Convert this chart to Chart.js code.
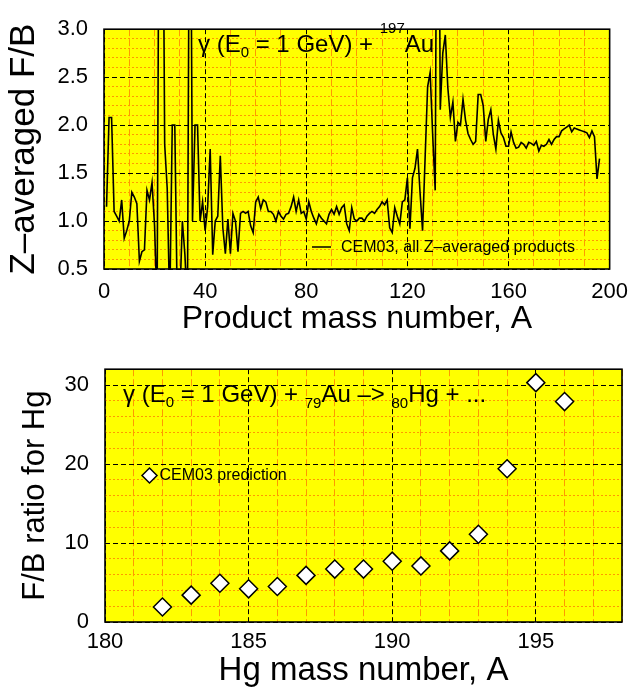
<!DOCTYPE html>
<html>
<head>
<meta charset="utf-8">
<script src="https://cdn.jsdelivr.net/npm/chart.js@4.4.1/dist/chart.umd.min.js"></script>
<style>
  html, body { margin: 0; padding: 0; background: #fff; }
  #wrap { position: relative; width: 638px; height: 694px; }
  #top { position: absolute; left: 0; top: 0; }
  #bottom { position: absolute; left: 0; top: 340px; }
</style>
</head>
<body>
<div id="wrap">
  <canvas id="top" width="638" height="340"></canvas>
  <canvas id="bottom" width="638" height="354"></canvas>
</div>
<script>
/* ---- top panel: Z-averaged F/B vs product mass number ---- */
const massNumbers = [
  1, 2, 3, 4, 5, 6, 7, 8, 9, 10, 11, 12, 13, 14, 15, 16, 17, 18, 19, 20,
  21, 22, 23, 24, 25, 26, 27, 28, 29, 30, 31, 32, 33, 34, 35, 36, 37, 38, 39, 40,
  41, 42, 43, 44, 45, 46, 47, 48, 49, 50, 51, 52, 53, 54, 55, 56, 57, 58, 59, 60,
  61, 62, 63, 64, 65, 66, 67, 68, 69, 70, 71, 72, 73, 74, 75, 76, 77, 78, 79, 80,
  81, 82, 83, 84, 85, 86, 87, 88, 89, 90, 91, 92, 93, 94, 95, 96, 97, 98, 99, 100,
  101, 102, 103, 104, 105, 106, 107, 108, 109, 110, 111, 112, 113, 114, 115, 116, 117, 118, 119, 120,
  121, 122, 123, 124, 125, 126, 127, 128, 129, 130, 131, 132, 133, 134, 135, 136, 137, 138, 139, 140,
  141, 142, 143, 144, 145, 146, 147, 148, 149, 150, 151, 152, 153, 154, 155, 156, 157, 158, 159, 160,
  161, 162, 163, 164, 165, 166, 167, 168, 169, 170, 171, 172, 173, 174, 175, 176, 177, 178, 179, 180,
  181, 182, 183, 184, 185, 186, 187, 188, 189, 190, 191, 192, 193, 194, 195, 196
];
const fbAveraged = [
  1.15, 2.08, 2.08, 1.1, 1.05, 1.0, 1.22, 0.82, 0.9, 1.0,
  1.3, 1.25, 1.18, 0.58, 0.68, 0.7, 1.32, 1.22, 1.4, 0.95,
  0.1, 6, 6, 1.8, 1.34, 0.1, 2.0, 2.0, 0.1, 0.2,
  1.0, 0.65, 0.1, 6, 1.0, 2.0, 2.0, 1.0, 1.2, 0.9,
  1.15, 1.75, 0.65, 1.0, 1.05, 1.68, 0.93, 0.66, 1.02, 0.66,
  1.08, 1.0, 0.68, 1.08, 1.1, 1.08, 1.1, 0.95, 0.88, 1.2,
  1.25, 1.13, 1.22, 1.2, 1.1, 1.1, 1.07, 1.0, 1.1, 1.05,
  1.02, 1.07, 1.08, 1.15, 1.25, 1.1, 1.22, 1.08, 1.1, 1.02,
  1.2, 1.1, 1.03, 0.97, 1.07, 1.03, 1.0, 0.97, 1.07, 1.12,
  1.07, 1.15, 1.07, 1.14, 1.17, 0.97, 0.9, 1.14, 1.02, 1.0,
  1.03, 1.03, 1.0, 1.05, 1.08, 1.1, 1.08, 1.12, 1.15, 1.2,
  1.17, 1.22, 0.93, 0.88, 1.14, 1.05, 0.97, 1.2, 1.22, 1.45,
  0.92, 1.45, 1.55, 1.75, 1.3, 0.9, 1.65, 2.4, 2.55, 1.9,
  1.32, 7, 2.16, 2.75, 2.94, 2.39, 2.08, 2.24, 1.83, 2.03,
  2.0, 2.27, 2.05, 1.91, 1.85, 1.8, 1.83, 2.32, 2.32, 2.2,
  1.83, 2.06, 2.16, 1.9, 1.75, 2.05, 1.92, 1.87, 1.78, 1.78,
  1.93, 1.82, 1.76, 1.77, 1.82, 1.8, 1.76, 1.82, 1.81, 1.79,
  1.83, 1.73, 1.79, 1.78, 1.8, 1.85, 1.8, 1.85, 1.88, 1.88,
  1.94, 1.96, 1.98, 2.0, 1.93, 1.97, 1.96, 1.95, 1.94, 1.93,
  1.92, 1.87, 1.94, 1.88, 1.44, 1.65
];
const topXTicks = [0, 40, 80, 120, 160, 200];
const topYTicks = [0.5, 1.0, 1.5, 2.0, 2.5, 3.0];

/* ---- bottom panel: F/B ratio for Hg isotopes ---- */
const hgMass = [182, 183, 184, 185, 186, 187, 188, 189, 190, 191, 192, 193, 194, 195, 196];
const hgRatio = [1.9, 3.4, 4.9, 4.2, 4.5, 5.9, 6.7, 6.7, 7.7, 7.1, 9.0, 11.1, 19.4, 30.3, 27.9];
const bottomXTicks = [180, 185, 190, 195];
const bottomYTicks = [0, 10, 20, 30];

const YELLOW = '#ffff00';
const ORANGE = '#ff9900';
const FONT = "'Liberation Sans', Arial, Helvetica, sans-serif";

Chart.defaults.font.family = FONT;
Chart.defaults.color = '#000';

// yellow plot area + black frame
const panelFrame = {
  id: 'panelFrame',
  beforeDraw(chart) {
    const { ctx, chartArea: a } = chart;
    ctx.save();
    ctx.fillStyle = YELLOW;
    ctx.fillRect(a.left, a.top, a.right - a.left, a.bottom - a.top);
    ctx.restore();
  },
  afterDatasetsDraw(chart) {
    const { ctx, chartArea: a } = chart;
    ctx.save();
    ctx.strokeStyle = '#000';
    ctx.lineWidth = 1.6;
    ctx.strokeRect(a.left, a.top, a.right - a.left, a.bottom - a.top);
    ctx.restore();
  }
};

// text with sub/superscripts: [text, size, dy]
function drawRich(ctx, x, y, parts) {
  ctx.save();
  ctx.fillStyle = '#000';
  ctx.textBaseline = 'alphabetic';
  ctx.textAlign = 'left';
  parts.forEach(([t, size, dy]) => {
    ctx.font = size + 'px ' + FONT;
    ctx.fillText(t, x, y + (dy || 0));
    x += ctx.measureText(t).width;
  });
  ctx.restore();
}

function drawDiamond(ctx, x, y, r) {
  ctx.save();
  ctx.beginPath();
  ctx.moveTo(x - r, y);
  ctx.lineTo(x, y - r);
  ctx.lineTo(x + r, y);
  ctx.lineTo(x, y + r);
  ctx.closePath();
  ctx.fillStyle = '#fff';
  ctx.fill();
  ctx.strokeStyle = '#000';
  ctx.lineWidth = 1.5;
  ctx.stroke();
  ctx.restore();
}

const topNotes = {
  id: 'topNotes',
  afterDatasetsDraw(chart) {
    const ctx = chart.ctx;
    drawRich(ctx, 198, 52, [['γ (E', 24], ['0', 15, 5], [' = 1 GeV) + ', 24], ['197', 15, -19], ['Au', 24]]);
    ctx.save();
    ctx.strokeStyle = '#000';
    ctx.lineWidth = 1.5;
    ctx.beginPath();
    ctx.moveTo(312, 247);
    ctx.lineTo(331, 247);
    ctx.stroke();
    ctx.restore();
    drawRich(ctx, 341, 252, [['CEM03, all Z–averaged products', 16]]);
  }
};

const bottomNotes = {
  id: 'bottomNotes',
  afterDatasetsDraw(chart) {
    const ctx = chart.ctx;
    drawRich(ctx, 123, 62, [['γ (E', 24], ['0', 15, 5], [' = 1 GeV) + ', 24], ['79', 15, 6], ['Au –> ', 24], ['80', 15, 6], ['Hg + ...', 24]]);
    drawDiamond(ctx, 149.5, 135.5, 7.5);
    drawRich(ctx, 159.5, 140, [['CEM03 prediction', 16]]);
  }
};

const nearMultiple = (v, m) => Math.abs(v / m - Math.round(v / m)) < 1e-6;

// --- top chart ---
new Chart(document.getElementById('top'), {
  type: 'line',
  data: {
    datasets: [{
      data: massNumbers.map((a, i) => ({ x: a, y: fbAveraged[i] })),
      xAxisID: 'x',
      yAxisID: 'y',
      borderColor: '#000',
      borderWidth: 1.6,
      pointRadius: 0,
      tension: 0,
      fill: false
    }]
  },
  options: {
    responsive: false,
    animation: false,
    layout: { padding: { left: 0, top: 14, right: 22, bottom: 0 } },
    plugins: { legend: { display: false }, tooltip: { enabled: false } },
    scales: {
      xMinor: {
        type: 'linear', axis: 'x', position: 'bottom', min: 0, max: 200,
        ticks: { display: false, stepSize: 10, maxTicksLimit: 1000 },
        grid: { color: c => nearMultiple(c.tick.value, 40) ? 'rgba(0,0,0,0)' : ORANGE, lineWidth: 1, drawTicks: false, z: -1 },
        border: { display: false, dash: [7, 3] },
        afterFit: s => { s.height = 0; }
      },
      yMinor: {
        type: 'linear', axis: 'y', position: 'left', min: 0.5, max: 3.0,
        ticks: { display: false, stepSize: 0.1, maxTicksLimit: 1000 },
        grid: { color: c => nearMultiple(c.tick.value, 0.5) ? 'rgba(0,0,0,0)' : ORANGE, lineWidth: 1, drawTicks: false, z: -1 },
        border: { display: false, dash: [2, 2] },
        afterFit: s => { s.width = 0; }
      },
      x: {
        type: 'linear', position: 'bottom', min: 0, max: 200,
        afterBuildTicks: s => { s.ticks = topXTicks.map(v => ({ value: v })); },
        ticks: { font: { size: 22 }, padding: 10, maxRotation: 0 },
        grid: { color: '#000', lineWidth: 1, drawTicks: false },
        border: { display: false, dash: [5, 3] },
        title: { display: true, text: 'Product mass number, A', font: { size: 32 }, padding: { top: 0, bottom: 2 } },
        afterFit: s => { s.height = 71; }
      },
      y: {
        type: 'linear', position: 'left', min: 0.5, max: 3.0,
        afterBuildTicks: s => { s.ticks = topYTicks.map(v => ({ value: v })); },
        ticks: { font: { size: 22 }, padding: 16, callback: v => v.toFixed(1) },
        grid: { color: '#000', lineWidth: 1, drawTicks: false },
        border: { display: false, dash: [5, 3] },
        title: { display: true, text: 'Z–averaged F/B', font: { size: 35 }, padding: { top: 3, bottom: 0 } },
        afterFit: s => { s.width = 104; }
      }
    }
  },
  plugins: [panelFrame, topNotes]
});

// --- bottom chart ---
new Chart(document.getElementById('bottom'), {
  type: 'scatter',
  data: {
    datasets: [{
      data: hgMass.map((m, i) => ({ x: m, y: hgRatio[i] })),
      xAxisID: 'x',
      yAxisID: 'y',
      pointStyle: 'rectRot',
      pointRadius: 9,
      pointBackgroundColor: '#fff',
      pointBorderColor: '#000',
      pointBorderWidth: 1.5,
      showLine: false
    }]
  },
  options: {
    responsive: false,
    animation: false,
    layout: { padding: { left: 0, top: 28, right: 16, bottom: 0 } },
    plugins: { legend: { display: false }, tooltip: { enabled: false } },
    scales: {
      xMinor: {
        type: 'linear', axis: 'x', position: 'bottom', min: 180, max: 198,
        ticks: { display: false, stepSize: 1, maxTicksLimit: 1000 },
        grid: { color: c => nearMultiple(c.tick.value, 5) ? 'rgba(0,0,0,0)' : ORANGE, lineWidth: 1, drawTicks: false, z: -1 },
        border: { display: false, dash: [7, 3] },
        afterFit: s => { s.height = 0; }
      },
      yMinor: {
        type: 'linear', axis: 'y', position: 'left', min: 0, max: 32,
        ticks: { display: false, stepSize: 2, maxTicksLimit: 1000 },
        grid: { color: c => nearMultiple(c.tick.value, 10) ? 'rgba(0,0,0,0)' : ORANGE, lineWidth: 1, drawTicks: false, z: -1 },
        border: { display: false, dash: [2, 2] },
        afterFit: s => { s.width = 0; }
      },
      x: {
        type: 'linear', position: 'bottom', min: 180, max: 198,
        afterBuildTicks: s => { s.ticks = bottomXTicks.map(v => ({ value: v })); },
        ticks: { font: { size: 22 }, padding: 7, maxRotation: 0 },
        grid: { color: '#000', lineWidth: 1, drawTicks: false },
        border: { display: false, dash: [5, 3] },
        title: { display: true, text: 'Hg mass number, A', font: { size: 33 }, padding: { top: 0, bottom: 3 } },
        afterFit: s => { s.height = 72; }
      },
      y: {
        type: 'linear', position: 'left', min: 0, max: 32,
        afterBuildTicks: s => { s.ticks = bottomYTicks.map(v => ({ value: v })); },
        ticks: { font: { size: 22 }, padding: 16 },
        grid: { color: '#000', lineWidth: 1, drawTicks: false },
        border: { display: false, dash: [5, 3] },
        title: { display: true, text: 'F/B ratio for Hg', font: { size: 31 }, padding: { top: 17, bottom: 0 } },
        afterFit: s => { s.width = 105; }
      }
    }
  },
  plugins: [panelFrame, bottomNotes]
});
</script>
</body>
</html>
